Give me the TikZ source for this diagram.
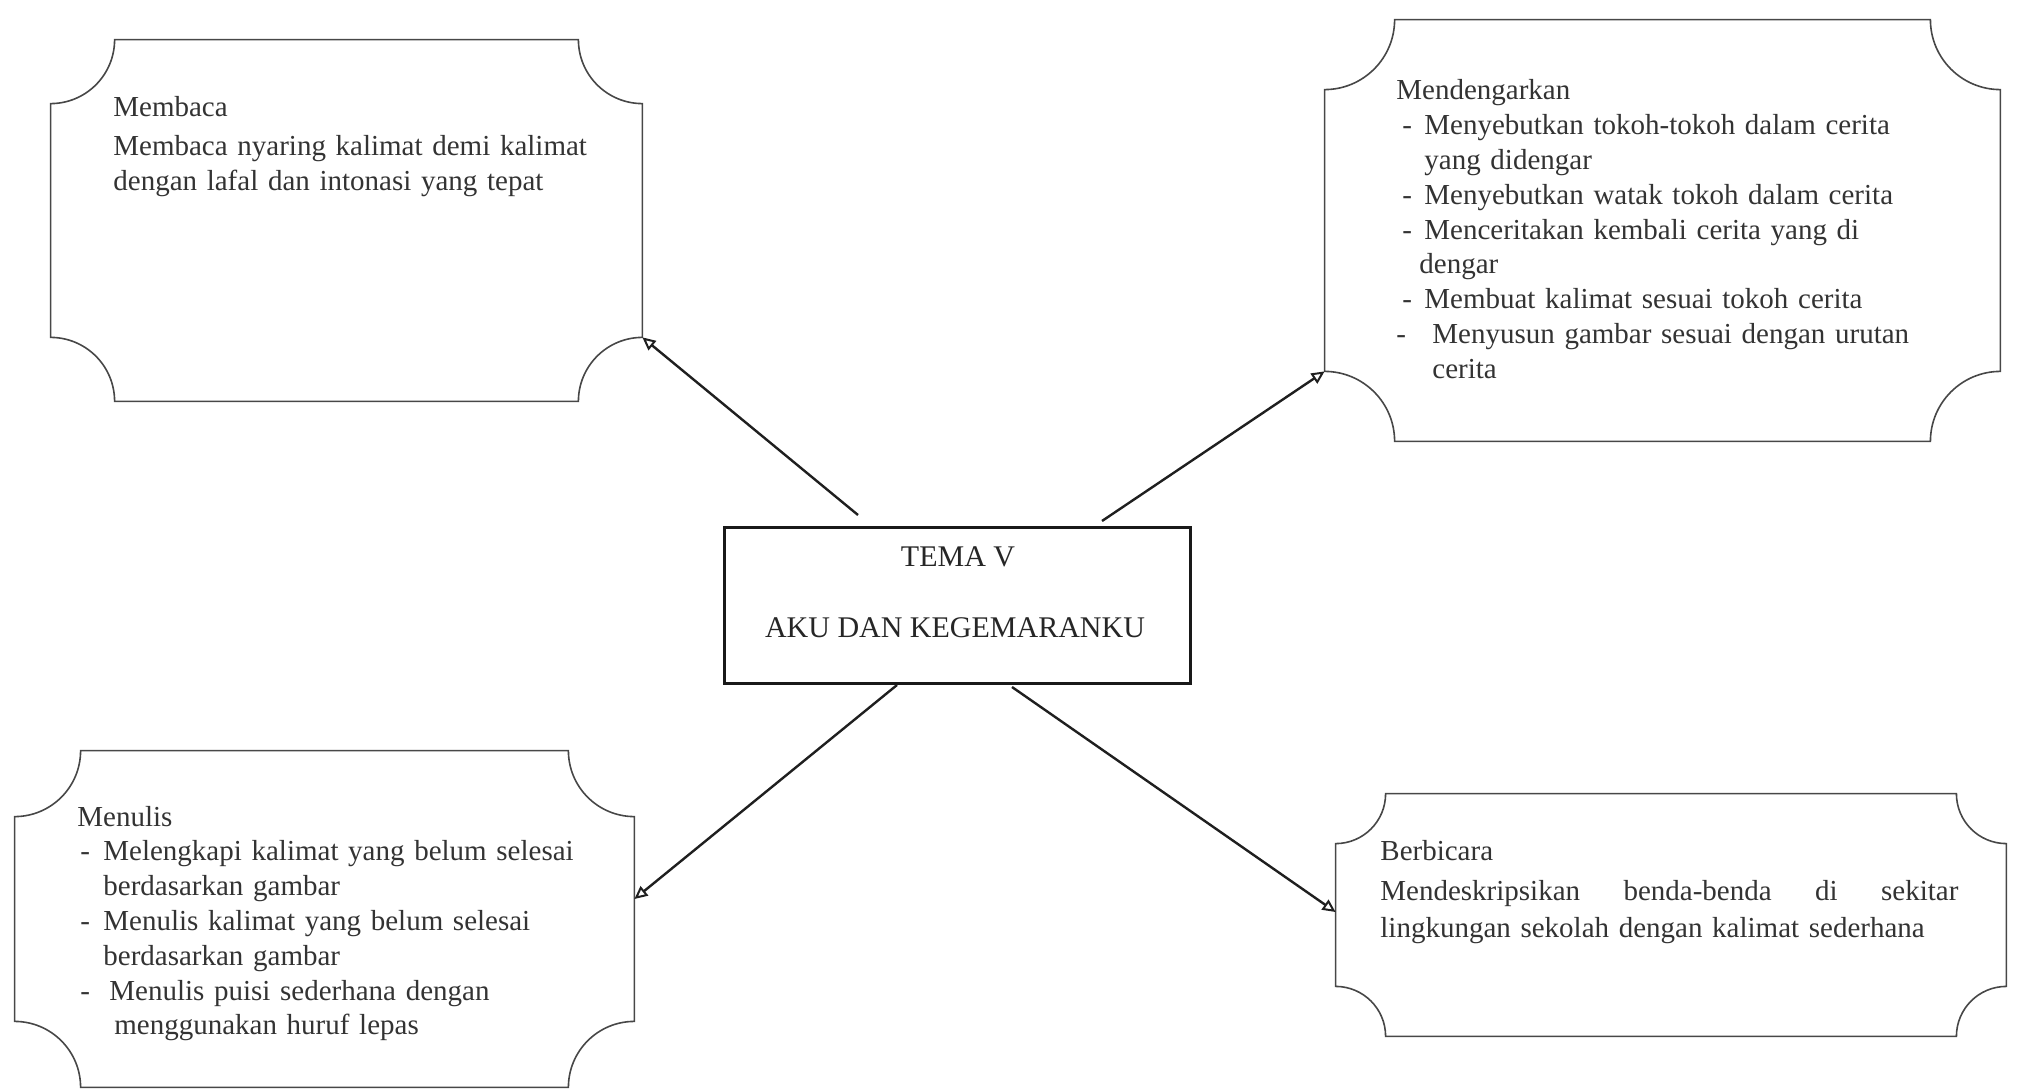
\documentclass[tikz,border=0pt]{standalone}
\usepackage{fontspec}
\setmainfont{Liberation Serif}
\usetikzlibrary{arrows.meta,fit,calc}
\tikzset{
  plaqueline/.style={draw=black!72, line width=0.8pt},
  boxframe/.style={inner sep=0pt, draw=none},
  bodytext/.style={anchor=base west, inner sep=0pt, text width=330pt, align=left,
    text=black!80, font=\fontsize{14.5}{17.4}\selectfont},
  centerbox/.style={draw=black!90, line width=1.5pt, inner sep=0pt},
  titletext/.style={anchor=base, inner sep=0pt, text=black!85, font=\fontsize{15}{18}\selectfont},
  conn/.style={draw=black!88, line width=1.2pt,
    -{Triangle[open, length=6.5pt, width=6pt, line width=1pt]}}
}
% concave-corner frame around a named node; #2 = corner radius
\newcommand\plaqueframe[2]{%
  \draw[plaqueline] ([xshift=#2]#1.north west) -- ([xshift=-#2]#1.north east)
    arc[start angle=180, end angle=270, radius=#2]
    -- ([yshift=#2]#1.south east)
    arc[start angle=90, end angle=180, radius=#2]
    -- ([xshift=#2]#1.south west)
    arc[start angle=0, end angle=90, radius=#2]
    -- ([yshift=-#2]#1.north west)
    arc[start angle=270, end angle=360, radius=#2] -- cycle;}
\begin{document}
\begin{tikzpicture}[x=0.5pt, y=-0.5pt]
\useasboundingbox (0,0) rectangle (2017,1091);

% frames
\node[boxframe, fit={(51,40) (642,401)}] (membaca) {};
\node[boxframe, fit={(1325,20) (2000,441)}] (mend) {};
\node[boxframe, fit={(15,751) (634,1087)}] (menulis) {};
\node[boxframe, fit={(1336,794) (2006,1036)}] (berbicara) {};
\plaqueframe{membaca}{32pt}
\plaqueframe{mend}{35pt}
\plaqueframe{menulis}{33pt}
\plaqueframe{berbicara}{25pt}

% centre
\node[centerbox, fit={(724,527) (1190,683)}] (tema) {};
\node[titletext] (temaA) at (958,566) {TEMA V};
\node[titletext] (temaB) at (955,637) {AKU DAN KEGEMARANKU};

% texts
\node[bodytext] (membacatxt) at (113,117) {Membaca\\[2pt]
Membaca nyaring kalimat demi kalimat\\
dengan lafal dan intonasi yang tepat};

\node[bodytext] (mendtxt) at (1396,100) {Mendengarkan\\
\hspace*{3pt}\makebox[11pt][l]{-}Menyebutkan tokoh-tokoh dalam cerita\\
\hspace*{14pt}yang didengar\\
\hspace*{3pt}\makebox[11pt][l]{-}Menyebutkan watak tokoh dalam cerita\\
\hspace*{3pt}\makebox[11pt][l]{-}Menceritakan kembali cerita yang di\\
\hspace*{11.5pt}dengar\\
\hspace*{3pt}\makebox[11pt][l]{-}Membuat kalimat sesuai tokoh cerita\\
\makebox[18pt][l]{-}Menyusun gambar sesuai dengan urutan\\
\hspace*{18pt}cerita};

\node[bodytext] (menulistxt) at (77,826) {Menulis\\
\makebox[13pt][l]{\hspace{1.5pt}-}Melengkapi kalimat yang belum selesai\\
\hspace*{13pt}berdasarkan gambar\\
\makebox[13pt][l]{\hspace{1.5pt}-}Menulis kalimat yang belum selesai\\
\hspace*{13pt}berdasarkan gambar\\
\makebox[16pt][l]{\hspace{1.5pt}-}Menulis puisi sederhana dengan\\
\hspace*{18.5pt}menggunakan huruf lepas};

\node[bodytext] (berbicaratxt) at (1380,860) {Berbicara\\[3pt]
\leavevmode\hbox to 289pt{Mendeskripsikan\hfill benda-benda\hfill di\hfill sekitar}\\[1pt]
lingkungan sekolah dengan kalimat sederhana};

% connectors
\coordinate (s1) at (858,515);
\coordinate (s2) at (1102,521);
\coordinate (s3) at (897,685);
\coordinate (s4) at (1012,687);
\draw[conn] (s1) -- ([yshift=32pt]membaca.south east);
\draw[conn] (s2) -- ([yshift=35pt]mend.south west);
\draw[conn] (s3) -- ([yshift=10pt]menulis.east);
\draw[conn] (s4) -- ([yshift=1.5pt]berbicara.west);
\end{tikzpicture}
\end{document}
